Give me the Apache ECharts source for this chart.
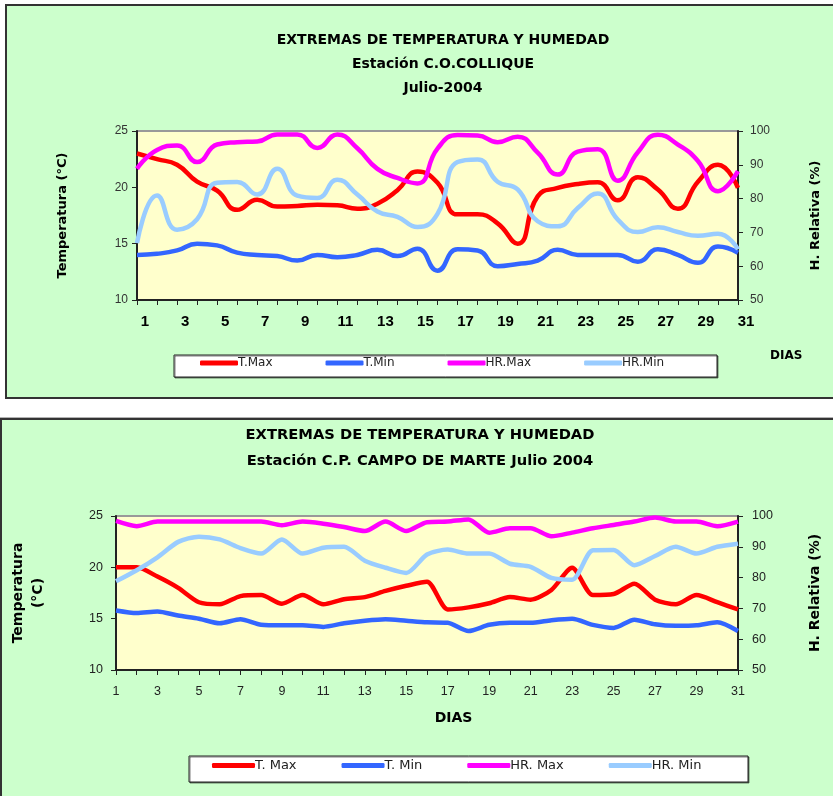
<!DOCTYPE html>
<html>
<head>
<meta charset="utf-8">
<script src="https://cdn.jsdelivr.net/npm/echarts@6/dist/echarts.min.js"></script>
<style>
  html, body { margin: 0; padding: 0; background: #fff; }
  #chart { width: 833px; height: 796px; }
</style>
</head>
<body>
<div id="chart"></div>
<script>
// dias del mes
var dias = ['1','2','3','4','5','6','7','8','9','10','11','12','13','14','15','16',
            '17','18','19','20','21','22','23','24','25','26','27','28','29','30','31'];

// Estación C.O. COLLIQUE - Julio 2004
var collTMax = [23.0, 22.5, 22.0, 20.5, 19.7, 18.0, 18.9, 18.3, 18.35, 18.45, 18.4, 18.1, 18.55, 19.75, 21.4, 20.4,
                17.6, 17.6, 16.8, 15.0, 19.2, 19.95, 20.3, 20.45, 18.85, 20.9, 19.8, 18.1, 20.5, 22.0, 19.95];
var collTMin = [14.0, 14.1, 14.4, 15.0, 14.85, 14.2, 14.0, 13.9, 13.5, 14.0, 13.8, 14.0, 14.45, 13.9, 14.55, 12.6,
                14.5, 14.4, 13.0, 13.2, 13.5, 14.45, 14.0, 14.0, 14.0, 13.4, 14.5, 14.0, 13.3, 14.75, 14.2];
var collHRMax = [88.8, 94.4, 95.7, 90.8, 96.0, 96.7, 96.9, 99.0, 99.0, 95.0, 99.0, 94.9, 88.8, 86.1, 84.5, 94.8,
                 98.8, 98.7, 96.7, 98.3, 93.6, 87.1, 93.9, 94.6, 85.3, 93.7, 98.9, 96.0, 91.1, 82.2, 88.1];
var collHRMin = [66.8, 80.9, 70.8, 73.9, 84.7, 84.9, 81.2, 88.8, 80.9, 80.2, 85.6, 81.2, 76.2, 74.6, 71.6, 75.5,
                 90.8, 91.6, 85.0, 82.7, 73.3, 71.8, 77.2, 81.5, 73.8, 70.1, 71.5, 70.1, 69.0, 69.6, 65.0];

// Estación C.P. CAMPO DE MARTE - Julio 2004
var campoTMax = [20.0, 20.0, 19.1, 18.0, 16.6, 16.4, 17.2, 17.3, 16.45, 17.3, 16.4, 16.9, 17.1, 17.7, 18.2, 18.6,
                 15.9, 16.1, 16.5, 17.1, 16.85, 17.8, 19.95, 17.3, 17.4, 18.4, 16.85, 16.4, 17.3, 16.6, 15.9];
var campoTMin = [15.8, 15.55, 15.7, 15.3, 15.0, 14.55, 14.95, 14.4, 14.35, 14.35, 14.2, 14.55, 14.8, 14.95, 14.8, 14.65,
                 14.6, 13.8, 14.4, 14.6, 14.6, 14.85, 15.0, 14.4, 14.1, 14.9, 14.45, 14.3, 14.35, 14.65, 13.8];
var campoHRMax = [98.4, 96.7, 98.2, 98.2, 98.2, 98.2, 98.2, 98.2, 97.0, 98.2, 97.5, 96.4, 95.1, 98.2, 95.1, 98.0,
                  98.2, 98.9, 94.6, 96.0, 96.0, 93.4, 94.6, 96.0, 97.1, 98.2, 99.5, 98.2, 98.2, 96.7, 98.2];
var campoHRMin = [78.8, 82.4, 86.6, 91.6, 93.3, 92.4, 89.6, 87.8, 92.4, 87.8, 89.7, 90.0, 85.5, 83.2, 81.5, 87.5,
                  89.1, 87.8, 87.8, 84.5, 83.5, 79.9, 79.3, 88.9, 89.0, 84.0, 87.0, 90.0, 87.8, 90.0, 91.0];

var colores = ['#FF0000', '#3366FF', '#FF00FF', '#99CCFF'];
var nombres1 = ['T.Max', 'T.Min', 'HR.Max', 'HR.Min'];
var nombres2 = ['T. Max', 'T. Min', 'HR. Max', 'HR. Min'];

var fBold = 'DejaVu Sans';
var fReg = 'Liberation Sans';

var myChart = echarts.init(document.getElementById('chart'));

function ejeX(grid, lbl) {
    return {
        type: 'category', gridIndex: grid, data: dias, boundaryGap: false,
        axisLine: { lineStyle: { color: '#222', width: 2 } },
        axisTick: { interval: 0, length: 5, lineStyle: { color: '#222', width: 1 } },
        axisLabel: lbl,
        splitLine: { show: false }
    };
}

function ejeY(grid, pos, min, max, step, lbl, nombre, gap, nombreStyle) {
    return {
        type: 'value', gridIndex: grid, position: pos, min: min, max: max, interval: step,
        axisLine: { show: true, lineStyle: { color: '#222', width: 2 } },
        axisTick: { show: true, length: 5, lineStyle: { color: '#222' } },
        axisLabel: lbl,
        splitLine: { show: false },
        name: nombre, nameLocation: 'middle', nameRotate: 90, nameGap: gap,
        nameTextStyle: nombreStyle
    };
}

function serie(nombre, datos, color, xi, yi, suave) {
    return {
        name: nombre, type: 'line', data: datos, xAxisIndex: xi, yAxisIndex: yi,
        smooth: suave, showSymbol: false, symbol: 'none',
        lineStyle: { color: color, width: 4.5 },
        itemStyle: { color: color }
    };
}

var lblY1 = { fontFamily: fReg, fontSize: 12, color: '#333', margin: 9 };
var lblY2 = { fontFamily: fReg, fontSize: 12.5, color: '#222', margin: 13 };
var nombre1 = { fontFamily: fBold, fontWeight: 'bold', fontSize: 13, color: '#000' };
var nombre2 = { fontFamily: fBold, fontWeight: 'bold', fontSize: 14, color: '#000', lineHeight: 20 };

var option = {
    animation: false,
    title: [{
        text: 'EXTREMAS DE TEMPERATURA Y HUMEDAD\nEstación C.O.COLLIQUE\nJulio-2004',
        left: 443, top: 28, textAlign: 'center', padding: 0,
        textStyle: { fontFamily: fBold, fontWeight: 'bold', fontSize: 14, lineHeight: 24, color: '#000' }
    }, {
        text: 'EXTREMAS DE TEMPERATURA Y HUMEDAD\nEstación C.P. CAMPO DE MARTE Julio 2004',
        left: 420, top: 422, textAlign: 'center', padding: 0,
        textStyle: { fontFamily: fBold, fontWeight: 'bold', fontSize: 14.7, lineHeight: 26, color: '#000' }
    }],
    graphic: [
        { type: 'rect', z: -10, shape: { x: 6, y: 5, width: 845, height: 393 },
          style: { fill: '#CCFFCC', stroke: '#333', lineWidth: 2 } },
        { type: 'rect', z: -10, shape: { x: 1, y: 419, width: 850, height: 395 },
          style: { fill: '#CCFFCC', stroke: '#333', lineWidth: 2, shadowColor: 'rgba(0,0,0,0.3)', shadowOffsetY: -1 } },
        { type: 'rect', z: -5, shape: { x: 174, y: 355, width: 543, height: 22 },
          style: { fill: '#fff', stroke: '#222', lineWidth: 1, shadowColor: 'rgba(0,0,0,0.5)', shadowOffsetX: 1, shadowOffsetY: 1 } },
        { type: 'rect', z: -5, shape: { x: 189, y: 756, width: 559, height: 26 },
          style: { fill: '#fff', stroke: '#222', lineWidth: 1, shadowColor: 'rgba(0,0,0,0.5)', shadowOffsetX: 1, shadowOffsetY: 1 } },
        { type: 'text', z: 5, left: 770, top: 350,
          style: { text: 'DIAS', fill: '#000', font: 'bold 12px "DejaVu Sans"' } }
    ],
    legend: [{
        data: nombres1, left: 200, top: 357, padding: 0, itemGap: 53,
        itemWidth: 38, itemHeight: 5, icon: 'roundRect',
        textStyle: { fontFamily: 'DejaVu Sans', fontSize: 12, color: '#222', padding: [0, 0, 0, -5] }
    }, {
        data: nombres2, left: 212, top: 759, padding: 0, itemGap: 45,
        itemWidth: 43, itemHeight: 5, icon: 'roundRect',
        textStyle: { fontFamily: 'DejaVu Sans', fontSize: 13, color: '#222', padding: [0, 0, 0, -5] }
    }],
    grid: [
        { left: 137, top: 131, width: 601, height: 169, show: true, backgroundColor: '#FFFFCC', borderColor: '#999', borderWidth: 2 },
        { left: 113, top: 516, width: 625, height: 154, show: true, backgroundColor: '#FFFFCC', borderColor: '#999', borderWidth: 2 }
    ],
    xAxis: [
        ejeX(0, { interval: 1, fontFamily: 'Liberation Sans Narrow, Arial Narrow, Liberation Sans', fontWeight: 'bold',
                  fontSize: 15, color: '#000', margin: 14, padding: [0, 0, 0, 16] }),
        Object.assign(ejeX(1, { interval: 1, fontFamily: fReg, fontSize: 12.5, color: '#222', margin: 15 }), {
            name: 'DIAS', nameLocation: 'middle', nameGap: 41,
            nameTextStyle: { fontFamily: fBold, fontWeight: 'bold', fontSize: 14, color: '#000', padding: [0, 0, 0, 53] }
        })
    ],
    yAxis: [
        ejeY(0, 'left', 10, 25, 5, lblY1, 'Temperatura (°C)', 68, nombre1),
        ejeY(0, 'right', 50, 100, 10, Object.assign({}, lblY1, { margin: 12 }), 'H. Relativa (%)', 71, nombre1),
        ejeY(1, 'left', 10, 25, 5, lblY2, 'Temperatura\n(°C)', 68, nombre2),
        ejeY(1, 'right', 50, 100, 10, Object.assign({}, lblY2, { margin: 14 }), 'H. Relativa (%)', 69,
             Object.assign({}, nombre2, { lineHeight: 17 }))
    ],
    series: [
        serie(nombres1[0], collTMax, colores[0], 0, 0, 0.5),
        serie(nombres1[1], collTMin, colores[1], 0, 0, 0.5),
        serie(nombres1[2], collHRMax, colores[2], 0, 1, 0.5),
        serie(nombres1[3], collHRMin, colores[3], 0, 1, 0.5),
        serie(nombres2[0], campoTMax, colores[0], 1, 2, 0.25),
        serie(nombres2[1], campoTMin, colores[1], 1, 2, 0.25),
        serie(nombres2[2], campoHRMax, colores[2], 1, 3, 0.25),
        serie(nombres2[3], campoHRMin, colores[3], 1, 3, 0.25)
    ]
};

myChart.setOption(option);
</script>
</body>
</html>
